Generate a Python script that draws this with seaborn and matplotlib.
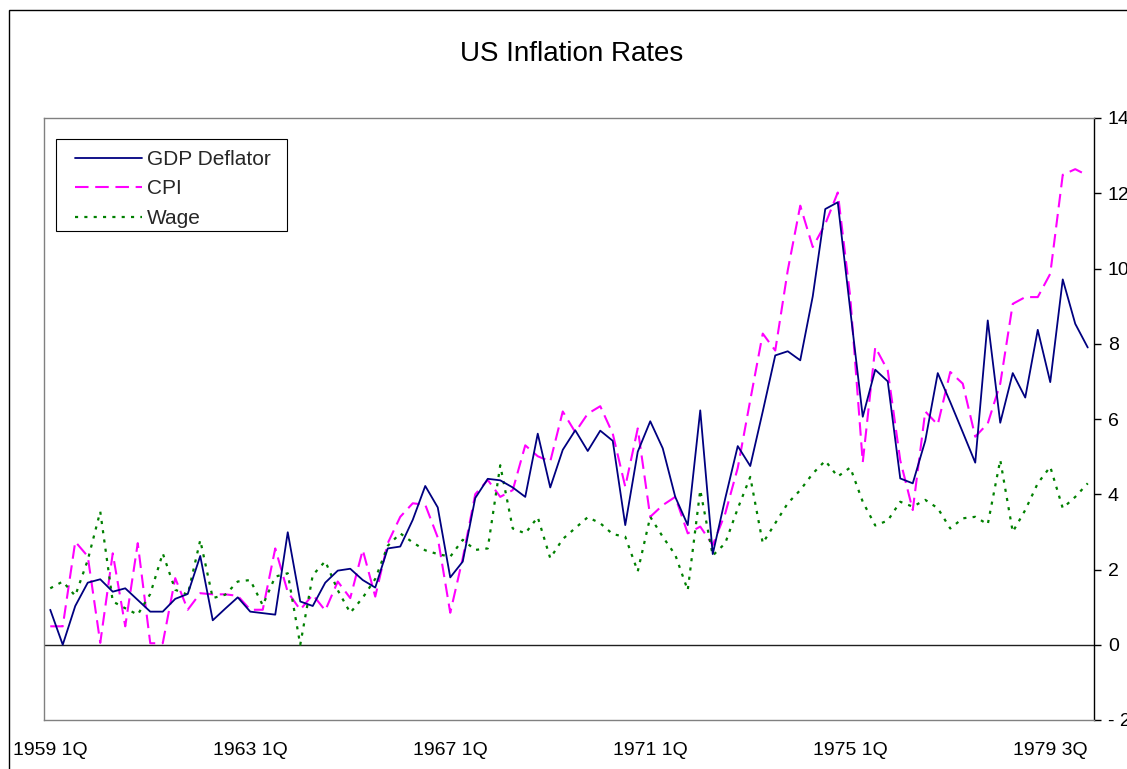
import numpy as np
import pandas as pd
import matplotlib
matplotlib.use("Agg")
import matplotlib.pyplot as plt
import seaborn as sns
from matplotlib.patches import Rectangle

# ---------------- data (quarterly, 1959Q1 .. 1979Q4) ----------------
gdp_deflator = [0.93, 0.00, 1.03, 1.65, 1.74, 1.41, 1.50, 1.19, 0.88, 0.88,
                1.22, 1.35, 2.36, 0.65, 0.96, 1.26, 0.88, 0.84, 0.80, 2.99,
                1.15, 1.03, 1.65, 1.97, 2.02, 1.72, 1.52, 2.56, 2.61, 3.32,
                4.22, 3.65, 1.79, 2.21, 3.90, 4.41, 4.37, 4.18, 3.93, 5.61,
                4.18, 5.18, 5.70, 5.15, 5.69, 5.42, 3.18, 5.13, 5.94, 5.22,
                3.93, 3.18, 6.23, 2.41, 3.89, 5.28, 4.75, 6.20, 7.69, 7.80,
                7.56, 9.26, 11.58, 11.76, 8.90, 6.06, 7.31, 7.00, 4.42, 4.29,
                5.42, 7.22, 6.45, 5.65, 4.84, 8.62, 5.90, 7.22, 6.57, 8.37,
                6.98, 9.71, 8.53, 7.90]
cpi = [0.49, 0.49, 2.74, 2.35, 0.05, 2.43, 0.49, 2.70, 0.04, 0.04,
       1.77, 0.93, 1.37, 1.34, 1.34, 1.30, 0.93, 0.93, 2.56, 1.40,
       0.93, 1.33, 0.91, 1.68, 1.24, 2.52, 1.28, 2.70, 3.40, 3.76,
       3.72, 2.85, 0.85, 2.30, 4.00, 4.38, 3.93, 4.11, 5.30, 5.01,
       4.87, 6.20, 5.65, 6.14, 6.34, 5.61, 4.20, 5.75, 3.40, 3.71,
       3.93, 2.96, 3.14, 2.65, 3.49, 4.70, 6.50, 8.27, 7.82, 9.95,
       11.67, 10.57, 11.18, 12.02, 9.24, 4.85, 7.91, 7.29, 4.90, 3.58,
       6.20, 5.85, 7.25, 6.94, 5.53, 5.88, 6.94, 9.06, 9.24, 9.24,
       9.86, 12.49, 12.64, 12.47]
wage = [1.50, 1.68, 1.30, 2.25, 3.54, 1.15, 0.97, 0.80, 1.35, 2.43,
        1.46, 1.33, 2.78, 1.24, 1.33, 1.68, 1.72, 1.05, 1.81, 1.90,
        0.00, 1.85, 2.22, 1.45, 0.85, 1.25, 1.75, 2.63, 2.96, 2.72,
        2.51, 2.41, 2.34, 2.79, 2.52, 2.56, 4.77, 3.09, 2.96, 3.39,
        2.30, 2.81, 3.10, 3.39, 3.23, 2.94, 2.87, 1.95, 3.40, 2.87,
        2.39, 1.45, 4.11, 2.37, 2.70, 3.62, 4.46, 2.70, 3.23, 3.76,
        4.11, 4.55, 4.89, 4.47, 4.71, 3.80, 3.17, 3.30, 3.80, 3.67,
        3.85, 3.63, 3.09, 3.36, 3.40, 3.20, 4.91, 3.00, 3.58, 4.29,
        4.73, 3.63, 3.93, 4.29]

series_names = ["GDP Deflator", "CPI", "Wage"]
x_tick_labels = ["1959 1Q", "1963 1Q", "1967 1Q", "1971 1Q", "1975 1Q", "1979 3Q"]
x_tick_index = [0, 16, 32, 48, 64, 80]
y_ticks = [-2, 0, 2, 4, 6, 8, 10, 12, 14]
y_tick_labels = ["- 2", "0", "2", "4", "6", "8", "10", "12", "14"]

quarter_index = np.arange(len(gdp_deflator))

# ---------------- style ----------------
sns.set_style("white")
plt.rcParams["font.family"] = ["Liberation Sans", "DejaVu Sans"]

W, H = 1127, 769
fig = plt.figure(figsize=(W / 100, H / 100), dpi=100)
fig.patch.set_facecolor("white")

# plot area in pixels: x 44..1094, y 118..720
ax = fig.add_axes([44 / W, 1 - 720 / H, 1050 / W, 602 / H])

ax.axhline(0, color="#202020", lw=1.0, zorder=1)

sns.lineplot(x=quarter_index, y=gdp_deflator, ax=ax, color="#000080",
             linewidth=1.3, label=series_names[0], zorder=3)
sns.lineplot(x=quarter_index, y=cpi, ax=ax, color="#FF00FF",
             linewidth=1.5, linestyle=(0, (6.5, 3.2)), label=series_names[1], zorder=2)
sns.lineplot(x=quarter_index, y=wage, ax=ax, color="#008000",
             linewidth=1.6, linestyle=(0, (1.4, 2.8)), label=series_names[2], zorder=2)

ax.set_xlim(-0.5, len(gdp_deflator) - 0.5)
ax.set_ylim(-2, 14)
ax.set_xlabel("")
ax.set_ylabel("")
ax.grid(False)

ax.yaxis.tick_right()
ax.set_yticks(y_ticks)
ax.set_yticklabels(y_tick_labels)
ax.tick_params(axis="y", direction="out", length=5, width=1, pad=5,
               labelsize=14, colors="black", right=True, left=False)
ax.set_xticks(x_tick_index)
ax.set_xticklabels(x_tick_labels)
ax.tick_params(axis="x", length=0, pad=16, labelsize=14, colors="black")
for lab in ax.get_yticklabels():
    lab.set_horizontalalignment("left")

for side in ["left", "top", "bottom"]:
    ax.spines[side].set_color("#808080")
    ax.spines[side].set_linewidth(1.0)
ax.spines["right"].set_color("black")
ax.spines["right"].set_linewidth(1.0)

# legend
leg = ax.legend(loc="upper left", bbox_to_anchor=((75 - 44) / 1050, (720 - 150) / 602),
                frameon=False, fontsize=15, handlelength=3.2, handletextpad=0.25,
                labelspacing=0.5, borderpad=0, borderaxespad=0)
fig.patches.append(Rectangle((55.7 / W, 1 - 230.7 / H), 231 / W, 91.4 / H,
                             transform=fig.transFigure, fill=False,
                             edgecolor="black", lw=0.8))

# title
fig.text(572 / W, 1 - 54 / H, "US Inflation Rates", ha="center", va="center",
         fontsize=20, color="black")

# outer chart border
fig.patches.append(Rectangle((9 / W, -0.05), 1.2, 1 - 10 / H + 0.05,
                             transform=fig.transFigure, fill=False,
                             edgecolor="black", lw=1.0))

fig.savefig("out.png", dpi=100)
